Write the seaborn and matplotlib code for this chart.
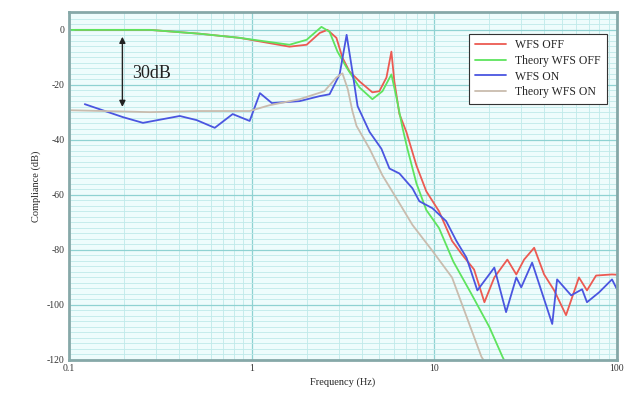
import numpy as np
import pandas as pd
import matplotlib
matplotlib.use("Agg")
import matplotlib.pyplot as plt
from matplotlib.ticker import FixedLocator, NullFormatter
import seaborn as sns

# measured WFS OFF
off_f = [0.108, 0.277, 0.52, 0.86, 1.61, 2.0, 2.36, 2.60, 2.91, 3.14, 3.43, 3.89, 4.58, 5.0,
         5.47, 5.82, 6.04, 6.44, 7.03, 7.98, 9.04, 10.6, 12.5, 14.2, 16.5, 18.8, 21.3, 25.1,
         28.1, 31.0, 35.2, 39.9, 45.3, 52.6, 61.9, 68.5, 76.8, 93.9, 100]
off_db = [0, 0, -1.4, -2.9, -6.1, -5.4, -1.1, 0, -2.9, -10.1, -15.1, -18.7, -22.7, -22.3,
          -17.3, -7.9, -18.7, -30.6, -37.1, -49.3, -58.7, -65.9, -76.7, -81.7, -87.1, -99, -90, -83.5,
          -88.9, -83.5, -79.2, -88.9, -94.7, -103.7, -90, -94.7, -89.3, -88.9, -89]

# theory WFS OFF
th_off_f = [0.1, 0.277, 0.52, 0.86, 1.61, 2.0, 2.41, 2.67, 2.95, 3.31, 3.89, 4.58, 5.2, 5.82,
            6.2, 6.68, 7.12, 7.98, 9.04, 10.6, 12.7, 15.9, 20.0, 23.6, 24.5]
th_off_db = [0, 0, -1.4, -2.9, -5.4, -3.6, 1.1, -0.7, -7.9, -13.7, -20.9, -25.2, -22.3, -16.2,
             -24.5, -35.3, -43.2, -55.8, -65.5, -72, -84.2, -95.8, -108, -118.8, -121]

# measured WFS ON
on_f = [0.122, 0.197, 0.254, 0.404, 0.50, 0.628, 0.787, 0.975, 1.11, 1.29, 1.83, 2.35, 2.67,
        3.03, 3.31, 3.56, 3.80, 4.42, 5.13, 5.68, 6.44, 7.59, 8.28, 9.75, 11.6, 13.2, 15.0,
        17.2, 21.3, 24.7, 28.1, 29.9, 34.3, 44.2, 47.0, 56.1, 64.4, 68.5, 79.8, 93.9, 100]
on_db = [-27, -31.7, -33.8, -31.3, -32.8, -35.6, -30.6, -33.1, -23, -26.6, -25.9, -24.1, -23.4,
         -16.2, -1.8, -15.1, -27.7, -37.1, -43.2, -50.4, -52.2, -57.6, -62.3, -64.8, -69.5, -76.7, -82.8,
         -94.7, -86.4, -102.6, -90, -93.6, -84.6, -106.9, -90.7, -96.5, -94.3, -99, -95.4, -90.7, -94.3]

# theory WFS ON
th_on_f = [0.1, 0.277, 0.52, 0.975, 1.25, 1.83, 2.5, 2.91, 3.14, 3.36, 3.56, 3.75, 4.42, 5.2,
           6.2, 7.59, 9.75, 12.5, 18.1, 19.0]
th_on_db = [-29.2, -29.9, -29.5, -29.5, -27.4, -25.2, -22.3, -17.3, -15.8, -21.6, -29.5, -34.9,
            -43.2, -52.9, -61.2, -70.9, -80.3, -90, -118.8, -121]

series = ["WFS OFF", "Theory WFS OFF", "WFS ON", "Theory WFS ON"]
colors = ["#ec5a52", "#5ee45e", "#4a55e0", "#c9bcae"]

df = pd.concat([
    pd.DataFrame({"freq": off_f, "db": off_db, "series": series[0]}),
    pd.DataFrame({"freq": th_off_f, "db": th_off_db, "series": series[1]}),
    pd.DataFrame({"freq": on_f, "db": on_db, "series": series[2]}),
    pd.DataFrame({"freq": th_on_f, "db": th_on_db, "series": series[3]}),
], ignore_index=True)

sns.set_style("white")
plt.rcParams["font.family"] = ["Liberation Serif", "DejaVu Serif"]

fig = plt.figure(figsize=(6.34, 3.94), dpi=100)
ax = fig.add_axes([69 / 634, 34 / 394, 548 / 634, 348 / 394])
ax.set_facecolor("#eefcfc")

sns.lineplot(data=df, x="freq", y="db", hue="series", hue_order=series,
             palette=dict(zip(series, colors)), sort=False, estimator=None,
             linewidth=1.3, ax=ax)

ax.set_xscale("log")
ax.set_xlim(0.1, 100)
ax.set_ylim(-120, 6.5)

ax.xaxis.set_major_locator(FixedLocator([0.1, 1, 10, 100]))
ax.set_xticklabels(["0.1", "1", "10", "100"])
minor_x = [m * 10.0 ** e for e in range(-1, 2) for m in range(2, 10)]
ax.xaxis.set_minor_locator(FixedLocator(minor_x))
ax.xaxis.set_minor_formatter(NullFormatter())
ax.yaxis.set_major_locator(FixedLocator([0, -20, -40, -60, -80, -100, -120]))
ax.set_yticklabels(["0", "-20", "-40", "-60", "-80", "-100", "-120"])
ax.yaxis.set_minor_locator(FixedLocator(np.arange(-118, 6, 2)))

ax.grid(which="major", color="#8fd2d2", linewidth=0.9)
ax.grid(which="minor", color="#bfeaea", linewidth=0.6)
ax.set_axisbelow(True)
ax.tick_params(which="both", length=0, labelsize=7, colors="#333333", pad=3)

for s in ax.spines.values():
    s.set_color("#86a8a8")
    s.set_linewidth(2)

ax.set_xlabel("Frequency (Hz)", fontsize=7.5, labelpad=3)
ax.set_ylabel("Compliance (dB)", fontsize=7.5, labelpad=4)

ax.annotate("", xy=(0.196, -28), xytext=(0.196, -2.5),
            arrowprops=dict(arrowstyle="<|-|>", color="#222222", lw=1.0,
                            mutation_scale=9, shrinkA=0, shrinkB=0))
ax.text(0.222, -16, "30dB", fontsize=13, va="center", ha="left", color="#222222")

leg = ax.legend(loc="upper right", bbox_to_anchor=(0.992, 0.955), fontsize=8.5,
                frameon=True, fancybox=False, edgecolor="#333333", framealpha=1,
                handlelength=2.6, borderpad=0.5, labelspacing=0.3)
leg.get_frame().set_linewidth(0.8)

fig.savefig("out.png", dpi=100)
